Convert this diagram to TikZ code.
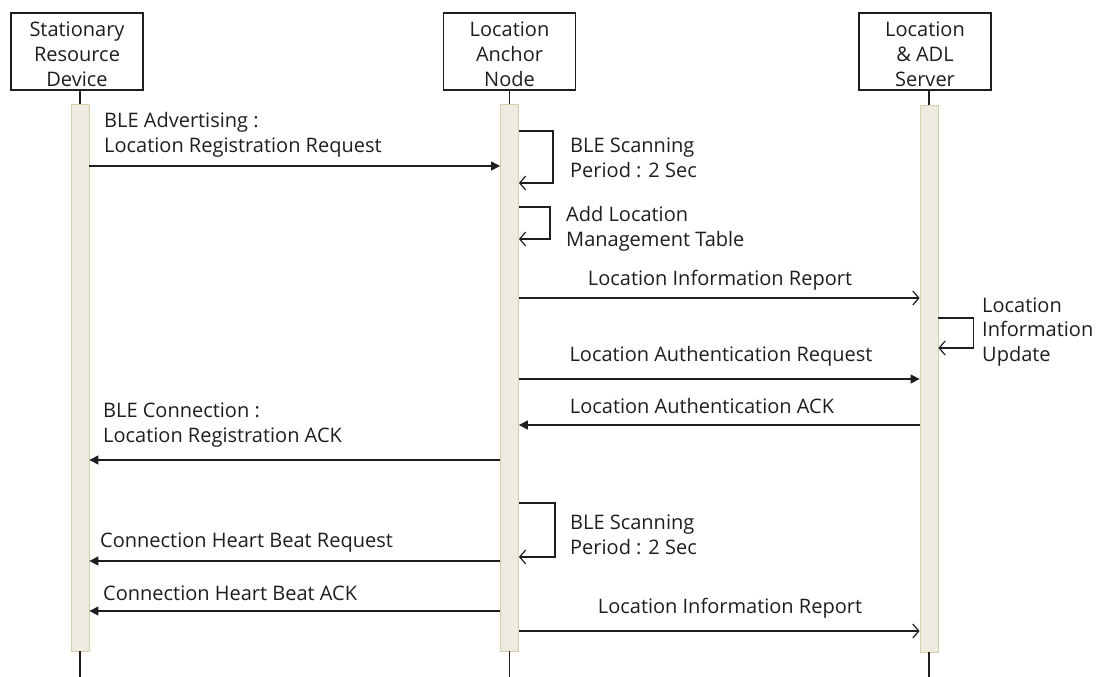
\documentclass[tikz,border=0pt]{standalone}
\usepackage{fontspec}
\setmainfont{Open Sans}
\usetikzlibrary{arrows.meta}
\definecolor{barfill}{RGB}{238,235,224}
\definecolor{barline}{RGB}{214,207,172}
\definecolor{ink}{RGB}{30,30,30}
\begin{document}
\begin{tikzpicture}[x=1pt,y=-1pt,
  every node/.style={text=ink},
  actor/.style={draw=ink, line width=1.2pt, fill=white, minimum width=132pt,
    minimum height=77pt, inner sep=0pt},
  actortext/.style={align=center, inner sep=0pt,
    font=\fontsize{20}{25}\selectfont},
  lifebar/.style={draw=barline, fill=barfill, line width=0.8pt,
    minimum width=18pt, minimum height=547pt, inner sep=0pt},
  stub/.style={draw=ink, line width=1.2pt},
  msg/.style={draw=ink, line width=1.2pt},
  sync/.style={msg, -{Triangle[length=9pt,width=9pt]}},
  reply/.style={msg, -{Straight Barb[length=6pt,width=14pt,line width=1.2pt]}},
  lbl/.style={font=\fontsize{20}{24.5}\selectfont, inner sep=0pt, align=left},
]
\useasboundingbox (0,0) rectangle (1096,677);

% participants
\node[actor] (srd) at (77,51.5) {};
\node[actor] (lan) at (509.5,51.5) {};
\node[actor] (srv) at (925,51.5) {};
\node[actortext] (srdt) at (77,54.5) {Stationary\\Resource\\Device};
\node[actortext] (lant) at (509.5,54.5) {Location\\Anchor\\Node};
\node[actortext] (srvt) at (925,54.5) {Location\\\& ADL\\Server};

% activation bars
\node[lifebar] (b1) at (80,377.5) {};
\node[lifebar] (b2) at (509.5,377.5) {};
\node[lifebar] (b3) at (929,378.5) {};

% lifeline stubs
\draw[stub] (srd.south -| b1.center) -- (b1.north);
\draw[stub] (lan.south -| b2.center) -- (b2.north);
\draw[stub] (srv.south -| b3.center) -- (b3.north);
\coordinate (e1) at (80,677);
\coordinate (e2) at (509.5,677);
\coordinate (e3) at (929,677);
\draw[stub] (b1.south) -- (e1);
\draw[stub] (b2.south) -- (e2);
\draw[stub] (b3.south) -- (e3);

% messages
\draw[sync] (b1.east |- 0,166) -- (b2.west |- 0,166);
\node[lbl, anchor=west] (t1) at (104,135) {BLE Advertising :\\Location Registration Request};

\draw[reply] (b2.east |- 0,131) -- ++(34,0) |- (b2.east |- 0,183);
\node[lbl, anchor=west] (t2) at (570,158) {BLE Scanning\\Period : 2 Sec};

\draw[reply] (b2.east |- 0,207) -- ++(31,0) |- (b2.east |- 0,239);
\node[lbl, anchor=west] (t3) at (566,229) {Add Location\\Management Table};

\draw[reply] (b2.east |- 0,298) -- (b3.west |- 0,298);
\node[lbl] (t4) at (720,280) {Location Information Report};

\draw[reply] (b3.east |- 0,318) -- ++(35,0) |- (b3.east |- 0,348);
\node[lbl, anchor=west] (t5) at (982,332) {Location\\Information\\Update};

\draw[sync] (b2.east |- 0,379) -- (b3.west |- 0,379);
\node[lbl] (t6) at (721,356) {Location Authentication Request};

\draw[sync] (b3.west |- 0,425) -- (b2.east |- 0,425);
\node[lbl] (t7) at (702,406) {Location Authentication ACK};

\draw[sync] (b2.west |- 0,460) -- (b1.east |- 0,460);
\node[lbl, anchor=west] (t8) at (103,425) {BLE Connection :\\Location Registration ACK};

\draw[reply] (b2.east |- 0,503) -- ++(36,0) |- (b2.east |- 0,557);
\node[lbl, anchor=west] (t9) at (570,535) {BLE Scanning\\Period : 2 Sec};

\draw[sync] (b2.west |- 0,561) -- (b1.east |- 0,561);
\node[lbl, anchor=west] (t10) at (100,543) {Connection Heart Beat Request};

\draw[sync] (b2.west |- 0,611) -- (b1.east |- 0,611);
\node[lbl, anchor=west] (t11) at (103,593) {Connection Heart Beat ACK};

\draw[reply] (b2.east |- 0,631) -- (b3.west |- 0,631);
\node[lbl] (t12) at (730,608) {Location Information Report};
\end{tikzpicture}
\end{document}
